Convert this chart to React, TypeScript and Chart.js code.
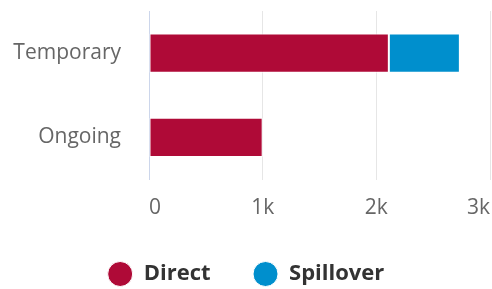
import React, { useEffect, useRef } from "react";
import { Chart, registerables } from "chart.js";

Chart.register(...registerables);

const categories = ["Temporary", "Ongoing"];
const seriesNames = ["Direct", "Spillover"];
const directValues = [2110, 1000];
const spilloverValues: (number | null)[] = [625, null];
const xTickValues = [0, 1000, 2000, 3000];
const xTickLabels = ["0", "1k", "2k", "3k"];

const FONT = "'Open Sans', 'Noto Sans', sans-serif";

export default function App() {
  const canvasRef = useRef<HTMLCanvasElement | null>(null);

  useEffect(() => {
    document.body.style.margin = "0";
    const canvas = canvasRef.current;
    if (!canvas) return;
    const chart = new Chart(canvas, {
      type: "bar",
      data: {
        labels: categories,
        datasets: [
          {
            label: seriesNames[0],
            data: directValues,
            backgroundColor: "#af0a37",
            borderColor: "#ffffff",
            borderWidth: 1,
            borderSkipped: false,
            categoryPercentage: 1,
            barPercentage: 0.463,
          },
          {
            label: seriesNames[1],
            data: spilloverValues,
            backgroundColor: "#008fcd",
            borderColor: "#ffffff",
            borderWidth: 1,
            borderSkipped: false,
            categoryPercentage: 1,
            barPercentage: 0.463,
          },
        ],
      },
      options: {
        indexAxis: "y",
        responsive: false,
        animation: false,
        layout: { padding: { top: 11, bottom: -6, left: 0, right: 0 } },
        plugins: {
          tooltip: { enabled: false },
          legend: {
            position: "bottom",
            labels: {
              usePointStyle: true,
              pointStyle: "circle",
              boxHeight: 17.68,
              pointStyleWidth: 25,
              padding: 42.5,
              color: "#333333",
              font: { family: FONT, size: 22, weight: "bold" },
            },
          },
        },
        scales: {
          x: {
            type: "linear",
            stacked: true,
            min: 0,
            max: 3000,
            afterBuildTicks: (scale: any) => {
              scale.ticks = xTickValues.map((v) => ({ value: v }));
            },
            ticks: {
              align: "inner",
              padding: 16,
              color: "#666666",
              font: { family: FONT, size: 21 },
              callback: (v: any) => {
                const i = xTickValues.indexOf(Number(v));
                return i >= 0 ? xTickLabels[i] : "";
              },
            },
            grid: { color: "#e6e6e6", lineWidth: 1, drawTicks: false },
            border: { display: false },
            afterFit: (scale: any) => {
              scale.paddingRight = 2;
              scale.paddingLeft = 0;
              scale.height = 41;
            },
          },
          y: {
            stacked: true,
            ticks: {
              padding: 28,
              color: "#666666",
              font: { family: FONT, size: 21 },
            },
            grid: { display: false, drawTicks: false },
            border: { display: true, color: "#ccd6eb", width: 1 },
            afterFit: (scale: any) => {
              scale.width = 149;
              scale.paddingTop = 0;
              scale.paddingBottom = 0;
            },
          },
        },
      },
    } as any);
    return () => chart.destroy();
  }, []);

  return (
    <div style={{ width: 492, height: 289 }}>
      <canvas ref={canvasRef} width={492} height={289} style={{ display: "block" }} />
    </div>
  );
}
